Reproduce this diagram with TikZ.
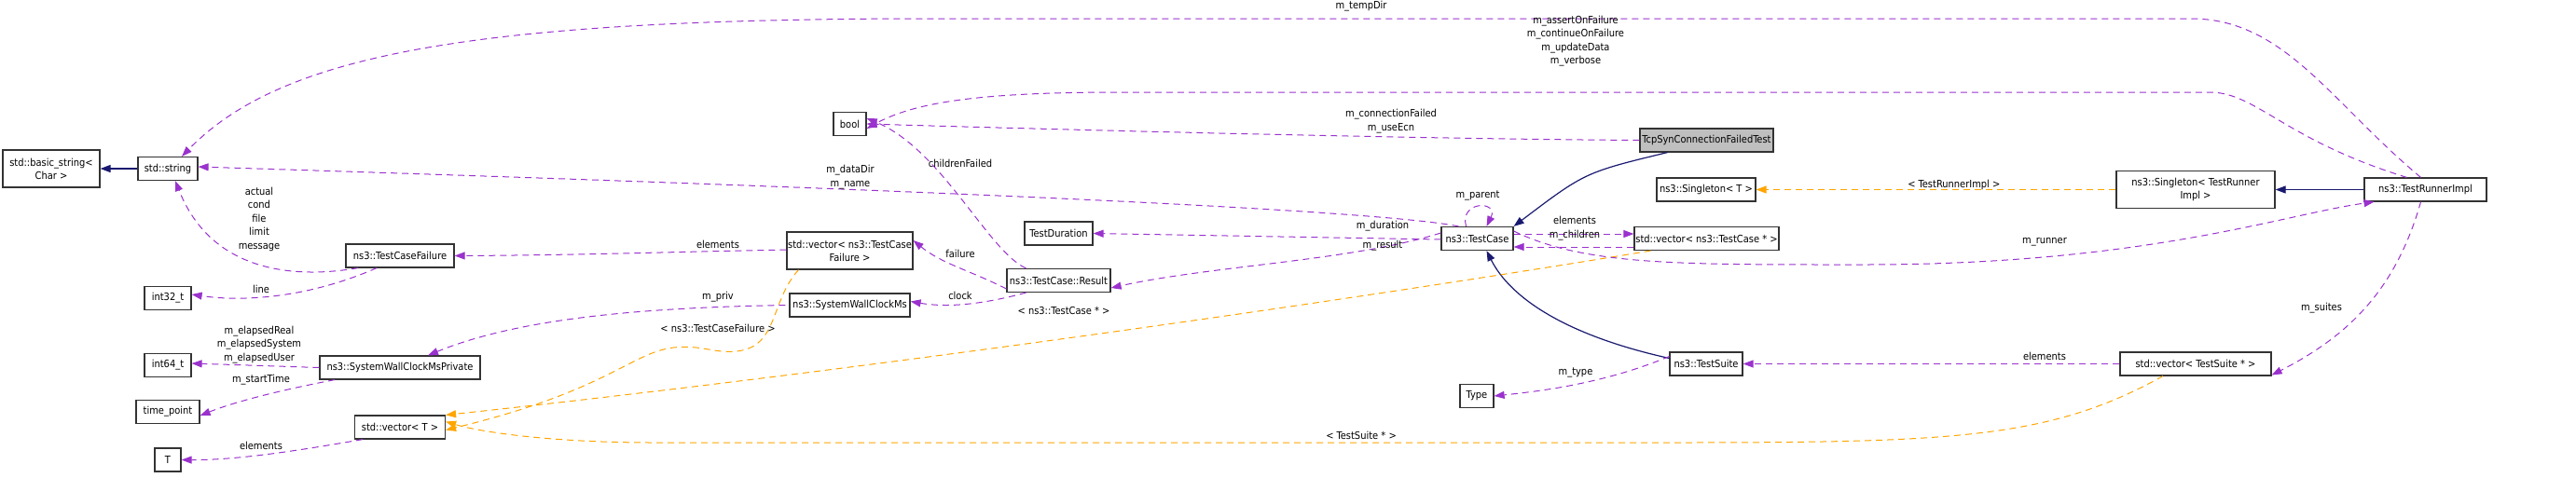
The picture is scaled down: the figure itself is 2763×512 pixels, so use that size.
\documentclass[tikz,border=0pt]{standalone}
\usepackage{fontspec}
\setmainfont{DejaVu Sans Condensed}
\usetikzlibrary{arrows.meta}
\begin{document}
\begin{tikzpicture}[x=1pt,y=-1pt,
  font=\fontsize{11}{14}\selectfont,
  box/.style={draw=black!80,line width=1.2pt,fill=white,inner sep=0pt,minimum height=25pt,align=center},
  box2/.style={box,minimum height=40pt},
  lbl/.style={align=center,inner sep=0pt,font=\fontsize{11}{14.5}\selectfont},
  mem/.style={color={rgb,255:red,154;green,50;blue,205},dash pattern=on 7pt off 5pt,line width=1pt,-{Triangle[length=11pt,width=8pt]}},
  tpl/.style={color={rgb,255:red,255;green,165;blue,0},dash pattern=on 7pt off 5pt,line width=1pt,-{Triangle[length=11pt,width=8pt]}},
  inh/.style={color={rgb,255:red,25;green,25;blue,112},line width=1.2pt,-{Triangle[length=11pt,width=8pt]}}]
\useasboundingbox (0,0) rectangle (2763,512);
% nodes
\node[box2,minimum width=104pt] (bs) at (55,181) {std::basic\_string<\\Char >};
\node[box,minimum width=64pt] (str) at (180,181) {std::string};
\node[box,minimum width=116pt] (tcf) at (429,274.5) {ns3::TestCaseFailure};
\node[box,minimum width=50pt] (i32) at (180,320) {int32\_t};
\node[box,minimum width=50pt] (i64) at (180,392) {int64\_t};
\node[box,minimum width=172pt] (swp) at (429,394.5) {ns3::SystemWallClockMsPrivate};
\node[box,minimum width=68pt] (tp) at (180,442) {time\_point};
\node[box,minimum width=97pt] (vt) at (429,458.5) {std::vector< T >};
\node[box,minimum width=28pt] (T) at (180,493.5) {T};
\node[box,minimum width=35pt] (bool) at (911.5,133) {bool};
\node[box2,minimum width=135pt] (vtcf) at (911.5,269) {std::vector< ns3::TestCase\\Failure >};
\node[box,minimum width=129pt] (swc) at (911.5,327.5) {ns3::SystemWallClockMs};
\node[box,minimum width=73pt] (td) at (1135.5,250.5) {TestDuration};
\node[box,minimum width=111pt] (res) at (1135.5,301) {ns3::TestCase::Result};
\node[box,minimum width=143pt,fill=black!25] (tcp) at (1830.5,150.5) {TcpSynConnectionFailedTest};
\node[box,minimum width=106pt] (sgt) at (1830,203.5) {ns3::Singleton< T >};
\node[box,minimum width=77pt] (tc) at (1584.5,256) {ns3::TestCase};
\node[box,minimum width=155pt] (vtc) at (1830.5,256) {std::vector< ns3::TestCase * >};
\node[box,minimum width=78pt] (ts) at (1830,390.5) {ns3::TestSuite};
\node[box,minimum width=36pt] (ty) at (1584,425) {Type};
\node[box2,minimum width=170pt] (sgr) at (2355,203.5) {ns3::Singleton< TestRunner\\Impl >};
\node[box,minimum width=131pt] (tri) at (2601.5,203.5) {ns3::TestRunnerImpl};
\node[box,minimum width=162pt] (vts) at (2355,390.5) {std::vector< TestSuite * >};
% inheritance
\draw[inh] (str) -- (bs);
\draw[inh] (tcp.south west) ++(30,0) .. controls (1700,185) .. (tc.north east);
\draw[inh] (ts.west) ++(0,-6) .. controls (1680,360) and (1620,320) .. ([xshift=10pt]tc.south);
\draw[inh] (tri) -- (sgr);
% templates
\draw[tpl] (sgr) -- node[lbl,above,pos=0.45,yshift=-1pt,text=black] {< TestRunnerImpl >} (sgt);
\draw[tpl] ([xshift=-60pt]vtc.south) .. controls (1400,330) and (900,400) .. (vt.north east);
\draw[tpl] ([xshift=-55pt]vtcf.south) .. controls (820,330) and (840,390) .. (760,375) .. controls (680,360) and (690,410) .. ([yshift=-3pt]vt.east);
\draw[tpl] ([xshift=-35pt]vts.south) .. controls (2200,470) and (2100,475) .. (1800,475) -- (700,475) .. controls (600,475) and (520,465) .. ([yshift=6pt]vt.east);
\node[lbl] at (1141,333) {< ns3::TestCase * >};
\node[lbl] at (770,352) {< ns3::TestCaseFailure >};
\node[lbl] at (1460,467) {< TestSuite * >};
% members
\draw[mem] ([xshift=-5pt]tri.north) .. controls (2500,110) and (2450,20) .. (2350,20) -- (1000,20) .. controls (500,20) and (300,60) .. ([xshift=15pt]str.north);
\node[lbl] at (1460,7) {m\_tempDir};
\draw[mem] ([xshift=-20pt]tri.north) .. controls (2450,150) and (2420,99) .. (2370,99) -- (1200,99) .. controls (1050,99) and (980,110) .. ([yshift=-5pt]bool.east);
\node[lbl] at (1690,44) {m\_assertOnFailure\\m\_continueOnFailure\\m\_updateData\\m\_verbose};
\draw[mem] (tcp.west) .. controls (1500,149) and (1100,138) .. (bool.east);
\node[lbl] at (1492,130) {m\_connectionFailed\\m\_useEcn};
\draw[mem] ([xshift=-35pt]res.north) .. controls (1060,270) and (1010,160) .. ([yshift=6pt]bool.east);
\node[lbl] at (1030,175) {childrenFailed};
\draw[mem] ([xshift=-20pt]tc.north) .. controls (1500,230) and (1200,210) .. ([yshift=2pt]str.east);
\node[lbl] at (912,190) {m\_dataDir\\m\_name};
\draw[mem] ([xshift=-12pt]tc.north) .. controls (1565,215) and (1608,215) .. ([xshift=10pt]tc.north);
\node[lbl] at (1585,210) {m\_parent};
\draw[mem] ([yshift=-1pt]tc.west) -- (td.east);
\node[lbl] at (1483,243) {m\_duration};
\draw[mem] ([yshift=6pt]tc.west) .. controls (1450,280) and (1300,285) .. ([yshift=-8pt]res.east);
\node[lbl] at (1483,264) {m\_result};
\draw[mem] ([yshift=-9pt]vtc.west) -- ([yshift=-9pt]tc.east);
\node[lbl] at (1689,236) {elements};
\draw[mem] ([yshift=5pt]tc.east) -- ([yshift=5pt]vtc.west);
\node[lbl] at (1689,253) {m\_children};
\draw[mem] ([yshift=8pt]tc.east) .. controls (1700,285) and (1800,284) .. (2000,284) .. controls (2300,284) and (2450,230) .. ([xshift=-55pt]tri.south);
\node[lbl] at (2193,260) {m\_runner};
\draw[mem] ([xshift=-5pt]tri.south) .. controls (2570,310) and (2520,360) .. ([yshift=-12pt]vts.east);
\node[lbl] at (2490,331) {m\_suites};
\draw[mem] (vts) -- (ts);
\node[lbl] at (2193,382) {elements};
\draw[mem] ([yshift=8pt]ts.west) .. controls (1720,412) and (1650,420) .. (ty.east);
\node[lbl] at (1690,400) {m\_type};
\draw[mem] ([yshift=-9pt]res.west) .. controls (1040,290) and (1010,283) .. ([yshift=11pt]vtcf.east);
\node[lbl] at (1030,272) {failure};
\draw[mem] ([xshift=-35pt]res.south) .. controls (1060,325) and (1020,331) .. ([yshift=4pt]swc.east);
\node[lbl] at (1030,317) {clock};
\draw[mem] ([yshift=1pt]vtcf.west) .. controls (700,271) and (600,274) .. (tcf.east);
\node[lbl] at (770,262) {elements};
\draw[mem] ([xshift=-45pt]tcf.south) .. controls (330,297) and (230,300) .. ([xshift=8pt]str.south);
\node[lbl] at (278,235) {actual\\cond\\file\\limit\\message};
\draw[mem] ([xshift=-25pt]tcf.south) .. controls (330,320) and (260,324) .. ([yshift=4pt]i32.east);
\node[lbl] at (280,310) {line};
\draw[mem] ([xshift=-4pt]swc.west) .. controls (700,330) and (560,340) .. ([xshift=30pt]swp.north);
\node[lbl] at (770,319) {m\_priv};
\draw[mem] (swp.west) -- ([yshift=2pt]i64.east);
\node[lbl] at (278,370) {m\_elapsedReal\\m\_elapsedSystem\\m\_elapsedUser};
\draw[mem] ([xshift=-70pt]swp.south) .. controls (320,415) and (260,428) .. ([yshift=-4pt]tp.east);
\node[lbl] at (280,408) {m\_startTime};
\draw[mem] ([xshift=-40pt]vt.south) .. controls (340,480) and (260,494) .. (T.east);
\node[lbl] at (280,478) {elements};
\end{tikzpicture}
\end{document}
